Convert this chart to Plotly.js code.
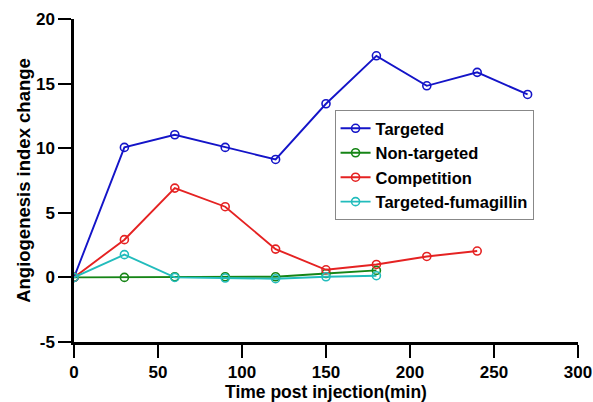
<!DOCTYPE html>
<html><head><meta charset="utf-8">
<script src="https://cdn.plot.ly/plotly-3.0.1.min.js"></script>
<style>html,body{margin:0;padding:0;background:#fff}#c{width:593px;height:402px}</style>
</head><body><div id="c"></div>
<script>
const times = [0, 30, 60, 90, 120, 150, 180, 210, 240, 270];
const targeted = [0, 10.06, 11.04, 10.06, 9.13, 13.44, 17.15, 14.83, 15.87, 14.16];
const nonTargeted = [0, 0, 0.05, 0.05, 0.05, 0.3, 0.54];
const competition = [0, 2.92, 6.91, 5.47, 2.19, 0.59, 1.0, 1.62, 2.04];
const fumagillin = [0, 1.76, 0, -0.05, -0.1, 0.05, 0.13];
const names = ['Targeted', 'Non-targeted', 'Competition', 'Targeted-fumagillin'];
const colors = ['#1414c8', '#168516', '#e52222', '#22bcbc'];
const series = [targeted, nonTargeted, competition, fumagillin];
const xTicks = [0, 50, 100, 150, 200, 250, 300];
const yTicks = [-5, 0, 5, 10, 15, 20];
const yTickText = ['-5', '0', '5', '10', '15', '20'];

const traces = series.map((ys, i) => ({
  x: times.slice(0, ys.length), y: ys, name: names[i], type: 'scatter', mode: 'lines+markers',
  line: {color: colors[i], width: 1.9},
  marker: {symbol: 'circle-open', size: 8, color: colors[i], line: {width: 1.6, color: colors[i]}}
}));
const fam = 'Liberation Sans, Arial, sans-serif';
const tf = {family: fam, size: 17, color: '#000', weight: 'bold'};
const layout = {
  width: 593, height: 402,
  margin: {l: 74, r: 15, t: 19, b: 60},
  paper_bgcolor: '#fff', plot_bgcolor: '#fff',
  showlegend: true,
  legend: {x: 0.517, y: 0.718, xanchor: 'left', yanchor: 'top', bgcolor: '#fff', bordercolor: '#888', borderwidth: 1,
    font: {family: fam, size: 16.5, color: '#000', weight: 'bold'}, tracegroupgap: 0, itemwidth: 30},
  xaxis: {range: [0, 300], tickvals: xTicks, showgrid: false, zeroline: false,
    showline: true, linecolor: '#000', linewidth: 2.5, ticks: 'outside', ticklen: 13, tickwidth: 2, tickcolor: '#000',
    tickfont: tf, title: {text: 'Time post injection(min)', font: {family: fam, size: 17.5, color: '#000', weight: 'bold'}, standoff: 5}},
  yaxis: {range: [-5, 20], tickvals: yTicks, ticktext: yTickText, showgrid: false, zeroline: false,
    showline: true, linecolor: '#000', linewidth: 2.5, ticks: 'outside', ticklen: 13, tickwidth: 2, tickcolor: '#000',
    tickfont: tf, title: {text: 'Angiogenesis index change', font: {family: fam, size: 18.5, color: '#000', weight: 'bold'}, standoff: 1}}
};
Plotly.newPlot('c', traces, layout, {displayModeBar: false});
</script></body></html>
